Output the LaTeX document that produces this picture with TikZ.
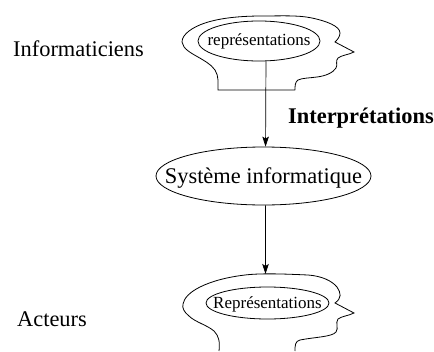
\documentclass[tikz,border=0pt]{standalone}
\usepackage{fontspec}
\setmainfont{Liberation Serif}
\usetikzlibrary{shapes.geometric,arrows.meta}
\tikzset{
  oval/.style={draw=black,ellipse,inner sep=0pt,line width=0.8pt},
  head/.style={draw=black,line width=0.8pt},
  link/.style={draw=black,line width=0.7pt,-{Stealth[length=10pt,width=6.5pt,inset=2pt]}},
  lab/.style={inner sep=0pt,font=\fontsize{22.4}{26}\selectfont}
}
\begin{document}
\begin{tikzpicture}[x=1pt,y=-1pt]
\useasboundingbox (0,0) rectangle (434,351);
% upper head
\draw[head] (295,90) -- (218,90) .. controls (218,84) and (219,76) .. (215,70)
  .. controls (211,64) and (203,60) .. (198,57)
  .. controls (191,53) and (183,49) .. (182,42)
  .. controls (182,34) and (193,27) .. (205,23)
  .. controls (220,18) and (240,16) .. (262,16)
  .. controls (280,16) and (298,15) .. (312,18)
  .. controls (326,21) and (340,26) .. (340,33)
  .. controls (340,37) and (337,40) .. (335,42)
  -- (354,52)
  .. controls (348,55) and (342,55) .. (338,58)
  .. controls (335,61) and (338,65) .. (336,68)
  .. controls (333,73) and (325,76) .. (317,77)
  .. controls (310,78) and (302,78) .. (298,80)
  .. controls (295,82) and (295,86) .. (295,90);
% lower head
\draw[head] (219,351) .. controls (220,342) and (219,336) .. (214,331)
  .. controls (207,325) and (195,322) .. (189,316)
  .. controls (184,312) and (182,308) .. (183,304)
  .. controls (184,298) and (190,292) .. (200,287)
  .. controls (212,281) and (228,277) .. (245,275)
  .. controls (262,273) and (285,274) .. (308,275)
  .. controls (322,276) and (332,281) .. (337,287)
  .. controls (341,293) and (342,298) .. (335,303)
  -- (354,313)
  .. controls (348,316) and (342,316) .. (338,319)
  .. controls (335,323) and (339,328) .. (336,332)
  .. controls (332,337) and (315,337) .. (300,340)
  .. controls (295,341) and (295,346) .. (295,351);
\node[oval,minimum width=122pt,minimum height=40pt,text height=12pt,text depth=4pt,font=\fontsize{17}{20}\selectfont] (rep) at (259,41) {\makebox[0pt]{représentations}};
\node[oval,minimum width=215pt,minimum height=58pt,text height=15pt,text depth=1pt,font=\fontsize{22.4}{26}\selectfont] (sys) at (263.5,176) {\makebox[0pt]{Système informatique}};
\node[oval,minimum width=123pt,minimum height=32pt,text height=12pt,text depth=2pt,font=\fontsize{17}{20}\selectfont] (rep2) at (267.5,303) {\makebox[0pt]{Représentations}};
\coordinate (top2) at (265.5,274);
\node[lab,anchor=base west] (inf) at (13,56) {Informaticiens};
\node[lab,anchor=base west] (act) at (17,326) {Acteurs};
\node[lab,anchor=base west,font=\fontsize{22.4}{26}\selectfont\bfseries] (int) at (288,123) {Interprétations};
\path[link] (rep.-71) -- (sys.86);
\path[link] (sys.-86) -- (top2);
\end{tikzpicture}
\end{document}
